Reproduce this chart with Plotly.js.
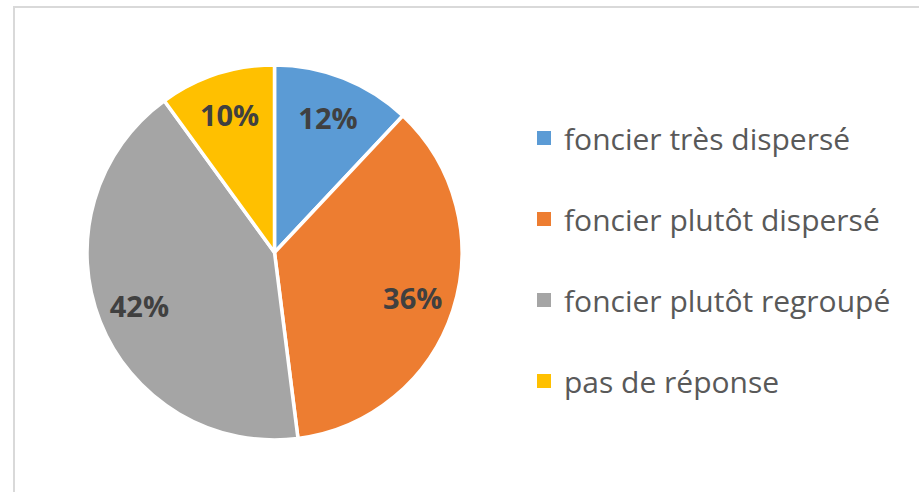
<!DOCTYPE html>
<html>
<head>
<meta charset="utf-8">
<script src="https://cdn.plot.ly/plotly-3.0.1.min.js"></script>
<style>html,body{margin:0;padding:0;background:#fff;}#chart{width:919px;height:492px;}</style>
</head>
<body>
<div id="chart"></div>
<script>
const categories = ["foncier très dispersé", "foncier plutôt dispersé", "foncier plutôt regroupé", "pas de réponse"];
const shares = [12, 36, 42, 10];
const colors = ["#5B9BD5", "#ED7D31", "#A5A5A5", "#FFC000"];

const W = 919, H = 492;
const cx = 274.5, cy = 252.5, R = 187.5;
const domain = { x: [(cx - R) / W, (cx + R) / W], y: [(H - cy - R) / H, (H - cy + R) / H] };

// main pie (slices)
const pie = {
  type: "pie",
  labels: categories,
  values: shares,
  sort: false,
  direction: "clockwise",
  rotation: 0,
  marker: { colors: colors, line: { color: "#ffffff", width: 3.5 } },
  textinfo: "none",
  hoverinfo: "none",
  showlegend: false,
  domain: domain
};

// same data as a transparent ring, so the library places the percentage labels in the outer band
const labelRing = {
  type: "pie",
  labels: categories,
  values: shares,
  sort: false,
  direction: "clockwise",
  rotation: 0,
  hole: 0.55,
  marker: { colors: colors.map(() => "rgba(0,0,0,0)"), line: { width: 0 } },
  textinfo: "percent",
  textposition: "inside",
  insidetextorientation: "horizontal",
  insidetextfont: { family: "Open Sans", size: 29, color: "#404040", weight: "bold" },
  hoverinfo: "none",
  showlegend: false,
  domain: domain
};

// legend entries
const legendTraces = categories.map((c, i) => ({
  type: "scatter",
  mode: "markers",
  x: [null], y: [null],
  name: c + "<br>&nbsp;",
  marker: { symbol: "square", size: 14, color: colors[i], line: { width: 0 } },
  hoverinfo: "none",
  showlegend: true
}));

const layout = {
  width: W, height: H,
  margin: { l: 0, r: 0, t: 0, b: 0 },
  paper_bgcolor: "#ffffff",
  plot_bgcolor: "rgba(0,0,0,0)",
  xaxis: { visible: false },
  yaxis: { visible: false },
  showlegend: true,
  legend: {
    x: 524 / W, xanchor: "left",
    y: 1 - 112 / H, yanchor: "top",
    valign: "top",
    traceorder: "normal",
    font: { family: "Open Sans", size: 30, color: "#595959" },
    bgcolor: "rgba(0,0,0,0)", borderwidth: 0
  },
  shapes: [{
    type: "rect", xref: "paper", yref: "paper",
    x0: 14 / W, x1: 1.2, y0: -0.2, y1: 1 - 7 / H,
    line: { color: "#D9D9D9", width: 2 }, fillcolor: "rgba(0,0,0,0)", layer: "below"
  }]
};

Plotly.newPlot("chart", [pie, labelRing].concat(legendTraces), layout, { displayModeBar: false, staticPlot: true });
</script>
</body>
</html>
